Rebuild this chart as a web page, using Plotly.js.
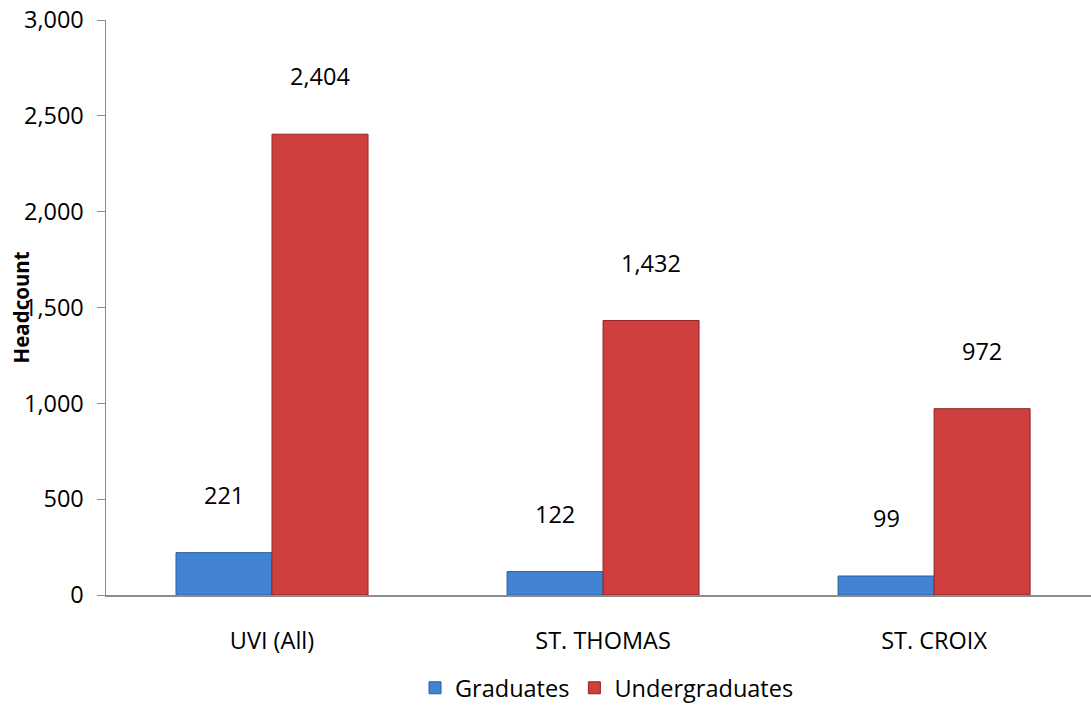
<!DOCTYPE html>
<html>
<head>
<meta charset="utf-8">
<script src="https://cdn.plot.ly/plotly-3.0.1.min.js"></script>
<style>html,body{margin:0;padding:0;background:#fff;}#chart{width:1091px;height:705px;}</style>
</head>
<body>
<div id="chart"></div>
<script>
const categories = ["UVI (All)", "ST. THOMAS", "ST. CROIX"];
const graduates = [221, 122, 99];
const undergraduates = [2404, 1432, 972];
const seriesNames = ["Graduates", "Undergraduates"];
const yTicks = [0, 500, 1000, 1500, 2000, 2500, 3000];

const font = "Open Sans, Noto Sans, sans-serif";
const fs = 23.5;
const fmt = v => v.toLocaleString("en-US");

const traces = [
  {type: "bar", name: seriesNames[0], x: categories, y: graduates,
   marker: {color: "#4383d4", line: {color: "#2a5f9e", width: 1}}},
  {type: "bar", name: seriesNames[1], x: categories, y: undergraduates,
   marker: {color: "#cf3f3d", line: {color: "#8f2423", width: 1}}}
];

const annotations = [];
const off = [-0.145, 0.145];
[graduates, undergraduates].forEach((arr, s) => {
  arr.forEach((v, i) => {
    annotations.push({x: i + off[s], y: v, xref: "x", yref: "y", text: fmt(v),
      showarrow: false, yshift: 58, font: {family: font, size: fs, color: "#000"}});
  });
});
annotations.push({x: (20 - 106) / 985, y: 0.5, xref: "paper", yref: "paper",
  xanchor: "center", yanchor: "middle", text: "<b>Headcount</b>",
  textangle: -90, showarrow: false, font: {family: font, size: 20.5, color: "#000"}});

const layout = {
  width: 1091, height: 705,
  margin: {l: 106, r: 0, t: 20, b: 110},
  paper_bgcolor: "#fff", plot_bgcolor: "#fff",
  barmode: "group", bargap: 0.42, bargroupgap: 0,
  showlegend: true,
  legend: {orientation: "h", x: 607 / 1091, xref: "container", xanchor: "center",
    y: (705 - 688) / 705, yref: "container", yanchor: "middle",
    bgcolor: "rgba(0,0,0,0)",
    font: {family: font, size: fs, color: "#000"}, itemwidth: 30, tracegroupgap: 0},
  xaxis: {type: "category", range: [-0.5015, 2.474], showgrid: false, zeroline: false,
    showline: true, linecolor: "#8c8c8c", linewidth: 1.5, ticks: "", ticklabelstandoff: 24,
    tickfont: {family: font, size: fs, color: "#000"}, automargin: false},
  yaxis: {range: [0, 3000], tickvals: yTicks, ticktext: yTicks.map(fmt), showgrid: false,
    zeroline: false, showline: true, linecolor: "#8c8c8c", linewidth: 1.5,
    ticks: "outside", ticklen: 8, tickcolor: "#8c8c8c", ticklabelstandoff: 8,
    tickfont: {family: font, size: fs, color: "#000"}, automargin: false},
  annotations: annotations,
  font: {family: font}
};

Plotly.newPlot("chart", traces, layout, {displayModeBar: false, staticPlot: true});
</script>
</body>
</html>
